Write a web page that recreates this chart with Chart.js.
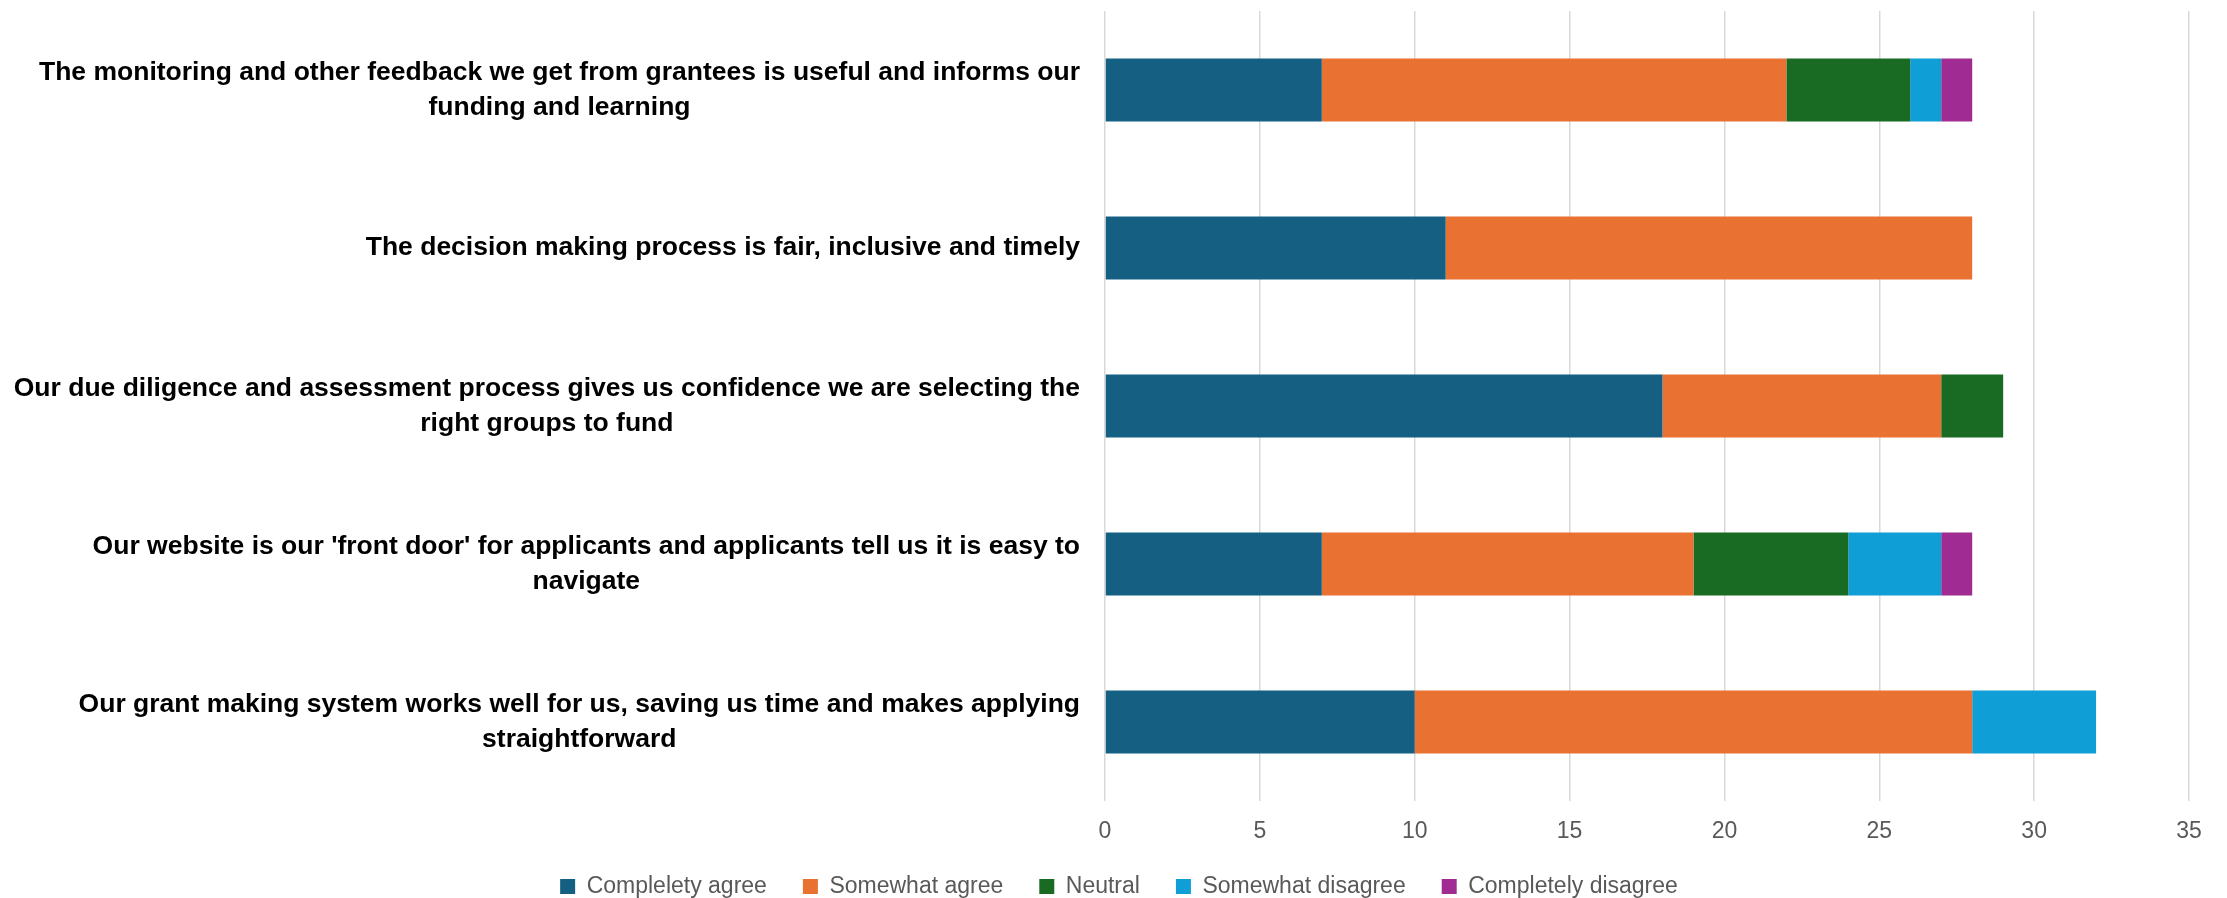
<!DOCTYPE html>
<html>
<head>
<meta charset="utf-8">
<script src="https://cdn.jsdelivr.net/npm/chart.js@4.4.1/dist/chart.umd.min.js"></script>
<style>
  html, body { margin: 0; padding: 0; background: #fff; }
  #wrap { width: 2227px; height: 898px; }
</style>
</head>
<body>
<div id="wrap"><canvas id="surveyChart"></canvas></div>
<script>
// ── Data ──
const statements = [
    ["The monitoring and other feedback we get from grantees is useful and informs our", "funding and learning"],
    ["The decision making process is fair, inclusive and timely"],
    ["Our due diligence and assessment process gives us confidence we are selecting the", "right groups to fund"],
    ["Our website is our 'front door' for applicants and applicants tell us it is easy to", "navigate"],
    ["Our grant making system works well for us, saving us time and makes applying", "straightforward"],
];
const seriesNames = ["Complelety agree", "Somewhat agree", "Neutral", "Somewhat disagree", "Completely disagree"];
const completelyAgree    = [7, 11, 18, 7, 10];
const somewhatAgree      = [15, 17, 9, 12, 18];
const neutral            = [4, 0, 2, 5, 0];
const somewhatDisagree   = [1, 0, 0, 3, 4];
const completelyDisagree = [1, 0, 0, 1, 0];
const xTicks = [0, 5, 10, 15, 20, 25, 30, 35];

// ── Colours (Office palette) ──
const COLORS = ["#156082", "#E97132", "#196B24", "#0F9ED5", "#A02B93"];
const LABEL_FONT = "bold 26.5px 'Liberation Sans', Arial, sans-serif";
const TICK_FAMILY = "'Liberation Sans', Arial, sans-serif";

const seriesValues = [completelyAgree, somewhatAgree, neutral, somewhatDisagree, completelyDisagree];

// category labels: block right-aligned, lines centred within block
const statementLabels = {
    id: "statementLabels",
    afterDraw(chart) {
        const ctx = chart.ctx;
        const yScale = chart.scales.y;
        const rightEdge = 1080;
        const lineH = 35;
        ctx.save();
        ctx.font = LABEL_FONT;
        ctx.fillStyle = "#000";
        ctx.textAlign = "center";
        ctx.textBaseline = "middle";
        statements.forEach((lines, i) => {
            const yc = yScale.getPixelForValue(i);
            const blockW = Math.max(...lines.map(l => ctx.measureText(l).width));
            const cx = rightEdge - blockW / 2;
            const y0 = yc - (lines.length - 1) * lineH / 2;
            lines.forEach((l, j) => ctx.fillText(l, cx, y0 + j * lineH));
        });
        ctx.restore();
    },
};

new Chart(document.getElementById("surveyChart"), {
    type: "bar",
    data: {
        labels: statements.map((s, i) => i),
        datasets: seriesNames.map((name, k) => ({
            label: name,
            data: seriesValues[k],
            backgroundColor: COLORS[k],
            borderWidth: 0,
            barPercentage: 0.4,
            categoryPercentage: 1,
        })),
    },
    options: {
        indexAxis: "y",
        responsive: true,
        maintainAspectRatio: false,
        animation: false,
        layout: { padding: { top: 11, right: 38, left: 49, bottom: -10 } },
        plugins: {
            tooltip: { enabled: false },
            legend: {
                position: "bottom",
                labels: {
                    boxWidth: 15,
                    boxHeight: 15,
                    padding: 36,
                    color: "#595959",
                    font: { family: TICK_FAMILY, size: 23 },
                },
            },
        },
        scales: {
            x: {
                stacked: true,
                min: 0,
                max: 35,
                afterBuildTicks: s => { s.ticks = xTicks.map(v => ({ value: v })); },
                grid: { color: "#d9d9d9", lineWidth: 1.5, drawTicks: false },
                border: { display: false },
                ticks: {
                    color: "#595959",
                    padding: 17,
                    font: { family: TICK_FAMILY, size: 23 },
                },
                afterFit: s => { s.height = 38; },
            },
            y: {
                stacked: true,
                grid: { display: false },
                border: { display: false },
                ticks: { display: false },
                afterFit: s => { s.width = 1056; },
            },
        },
    },
    plugins: [statementLabels],
});
</script>
</body>
</html>
